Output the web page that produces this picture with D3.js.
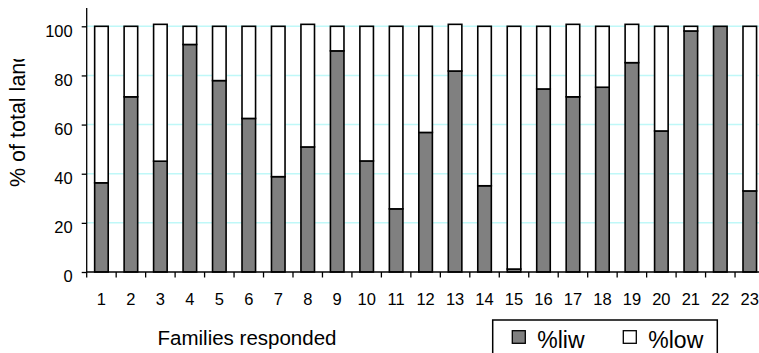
<!DOCTYPE html>
<html>
<head>
<meta charset="utf-8">
<script src="https://cdn.jsdelivr.net/npm/d3@7"></script>
<style>
  html, body { margin: 0; padding: 0; background: #fff; }
  svg { display: block; font-family: Arial, "Liberation Sans", sans-serif; }
</style>
</head>
<body>
<svg id="chart" width="759" height="353"></svg>
<script>
const categories = ["1","2","3","4","5","6","7","8","9","10","11","12","13","14","15","16","17","18","19","20","21","22","23"];
const liw = [36.3, 71.3, 45.1, 92.6, 77.9, 62.5, 38.8, 50.9, 90.0, 45.2, 25.7, 56.8, 81.8, 35.1, 1.2, 74.5, 71.3, 75.2, 85.2, 57.4, 98.1, 100, 33.0];
const low = [63.7, 28.7, 55.7, 7.4, 22.1, 37.5, 61.2, 49.9, 10.0, 54.8, 74.3, 43.2, 19.0, 64.9, 98.8, 25.5, 29.5, 24.8, 15.6, 42.6, 1.9, 0, 67.0];
const yTicks = [0, 20, 40, 60, 80, 100];
const seriesNames = ["%liw", "%low"];
const seriesColors = ["#808080", "#ffffff"];

const svg = d3.select("#chart");
const left = 86.7, step = 29.47;
const plotTop = 8, plotBottom = 272;

const x = d3.scaleBand()
  .domain(categories)
  .range([left, left + step * categories.length])
  .paddingInner(0.54)
  .paddingOuter(0.27);

const y = d3.scaleLinear().domain([0, 100]).range([272, 26.3]);

// gridlines
svg.append("g").selectAll("line")
  .data(yTicks.filter(d => d > 0))
  .join("line")
  .attr("x1", left).attr("x2", 759)
  .attr("y1", d => y(d)).attr("y2", d => y(d))
  .attr("stroke", "#bff8f8").attr("stroke-width", 1.5);

// stacked bars
const rows = categories.map((c, i) => ({ cat: c, liw: liw[i], low: low[i] }));
const stack = d3.stack().keys(["liw", "low"])(rows);
svg.append("g").selectAll("g")
  .data(stack)
  .join("g")
  .attr("fill", (d, i) => seriesColors[i])
  .selectAll("rect")
  .data(d => d)
  .join("rect")
  .attr("x", d => x(d.data.cat))
  .attr("width", x.bandwidth())
  .attr("y", d => y(d[1]))
  .attr("height", d => y(d[0]) - y(d[1]))
  .attr("stroke", "#000")
  .attr("stroke-width", 1.6);

// y axis
const yAxis = svg.append("g")
  .attr("transform", `translate(${left},0)`)
  .call(d3.axisLeft(y).tickValues(yTicks).tickSize(5).tickPadding(9));
yAxis.select(".domain").remove();
yAxis.selectAll(".tick line").attr("stroke", "#000").attr("stroke-width", 1.3);
yAxis.selectAll(".tick text")
  .attr("font-size", "16.5px").attr("fill", "#000")
  .attr("font-family", "Arial, 'Liberation Sans', sans-serif")
  .attr("dy", "0.6em");
svg.append("line")
  .attr("x1", left).attr("x2", left)
  .attr("y1", plotTop).attr("y2", plotBottom)
  .attr("stroke", "#000").attr("stroke-width", 1.3);

// x axis
svg.append("line")
  .attr("x1", left).attr("x2", 759)
  .attr("y1", plotBottom).attr("y2", plotBottom)
  .attr("stroke", "#000").attr("stroke-width", 1.5);
const boundaries = categories.map(c => x(c) + x.bandwidth() / 2 - x.step() / 2);
svg.append("g").selectAll("line")
  .data(boundaries)
  .join("line")
  .attr("x1", d => d).attr("x2", d => d)
  .attr("y1", plotBottom).attr("y2", plotBottom + 5.5)
  .attr("stroke", "#000").attr("stroke-width", 1.3);
svg.append("g").selectAll("text")
  .data(categories)
  .join("text")
  .attr("x", d => x(d) + x.bandwidth() / 2)
  .attr("y", 305)
  .attr("text-anchor", "middle")
  .attr("font-size", "16.5px")
  .text(d => d);

// axis titles
svg.append("text")
  .attr("x", 247).attr("y", 345)
  .attr("text-anchor", "middle")
  .attr("font-size", "20.5px")
  .text("Families responded");

svg.append("defs").append("clipPath").attr("id", "ytclip")
  .append("rect").attr("x", 0).attr("y", 59).attr("width", 60).attr("height", 200);
svg.append("g")
  .attr("clip-path", "url(#ytclip)")
  .append("text")
  .attr("transform", "translate(25,187) rotate(-90)")
  .attr("font-size", "21.5px")
  .text("% of total land");

// legend
const lg = svg.append("g");
lg.append("rect")
  .attr("x", 492.7).attr("y", 320).attr("width", 224.6).attr("height", 50)
  .attr("fill", "#fff").attr("stroke", "#000").attr("stroke-width", 1.5);
const legendX = [512.3, 623.3];
seriesNames.forEach((name, i) => {
  lg.append("rect")
    .attr("x", legendX[i]).attr("y", 330.7).attr("width", 13).attr("height", 12.6)
    .attr("fill", seriesColors[i]).attr("stroke", "#000").attr("stroke-width", 1.3);
  lg.append("text")
    .attr("x", legendX[i] + 25).attr("y", 348.3)
    .attr("font-size", "23px")
    .text(name);
});
</script>
</body>
</html>
